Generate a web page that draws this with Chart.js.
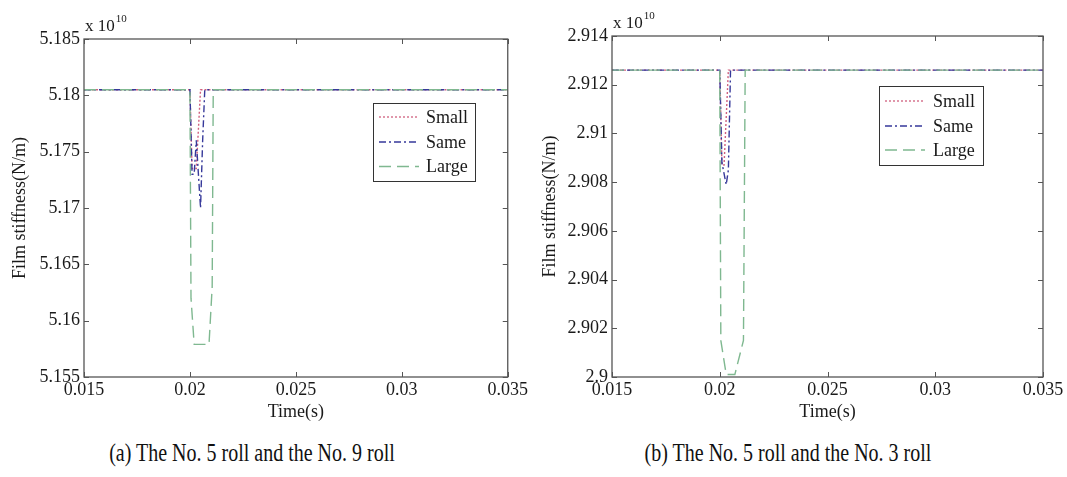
<!DOCTYPE html>
<html><head><meta charset="utf-8">
<script src="https://cdn.jsdelivr.net/npm/chart.js@4/dist/chart.umd.min.js"></script>
<style>
html,body{margin:0;padding:0;background:#fff;}
body{width:1067px;height:477px;position:relative;overflow:hidden;font-family:"Liberation Serif","Times New Roman",serif;}
canvas{position:absolute;top:0;}
#ca{left:0;}
#cb{left:530px;}
.cap{position:absolute;top:438px;font-size:25px;line-height:29px;white-space:nowrap;color:#111;transform:translateX(-50%) scaleX(0.8);}
#capa{left:252px;}
#capb{left:788px;}
</style></head><body>
<canvas id="ca" width="530" height="430"></canvas>
<canvas id="cb" width="537" height="430"></canvas>
<div class="cap" id="capa">(a) The No. 5 roll and the No. 9 roll</div>
<div class="cap" id="capb">(b) The No. 5 roll and the No. 3 roll</div>
<script>
// ---------- data ----------
const seriesNames = ['Small', 'Same', 'Large'];
const xTicks = [0.015, 0.02, 0.025, 0.03, 0.035];
const xTickLabels = ['0.015', '0.02', '0.025', '0.03', '0.035'];
const xTitle = 'Time(s)';
const yTitle = 'Film stiffness(N/m)';
const exponentLabel = '10';

// (a) No. 5 roll and No. 9 roll
const yTicksA = [5.155, 5.16, 5.165, 5.17, 5.175, 5.18, 5.185];
const yTickLabelsA = ['5.155', '5.16', '5.165', '5.17', '5.175', '5.18', '5.185'];
const tSmallA = [0.015, 0.0200, 0.0201, 0.0203, 0.0205, 0.035];
const vSmallA = [5.1805, 5.1805, 5.1735, 5.1735, 5.1805, 5.1805];
const tSameA = [0.015, 0.0200, 0.0201, 0.0202, 0.0203, 0.0205, 0.0206, 0.0207, 0.035];
const vSameA = [5.1805, 5.1805, 5.1730, 5.1730, 5.1760, 5.1700, 5.1760, 5.1805, 5.1805];
const tLargeA = [0.015, 0.0200, 0.02005, 0.0202, 0.0209, 0.02105, 0.0211, 0.035];
const vLargeA = [5.1805, 5.1805, 5.1620, 5.1579, 5.1579, 5.1630, 5.1805, 5.1805];

// (b) No. 5 roll and No. 3 roll
const yTicksB = [2.9, 2.902, 2.904, 2.906, 2.908, 2.91, 2.912, 2.914];
const yTickLabelsB = ['2.9', '2.902', '2.904', '2.906', '2.908', '2.91', '2.912', '2.914'];
const tSmallB = [0.015, 0.0200, 0.0201, 0.0202, 0.0204, 0.035];
const vSmallB = [2.9126, 2.9126, 2.9087, 2.9087, 2.9126, 2.9126];
const tSameB = [0.015, 0.0200, 0.0201, 0.0203, 0.0204, 0.0205, 0.035];
const vSameB = [2.9126, 2.9126, 2.9088, 2.9079, 2.9085, 2.9126, 2.9126];
const tLargeB = [0.015, 0.0200, 0.02005, 0.0203, 0.0207, 0.0211, 0.02118, 0.035];
const vLargeB = [2.9126, 2.9126, 2.9015, 2.9001, 2.9001, 2.9015, 2.9126, 2.9126];

// ---------- styling ----------
const FONT = '"Liberation Serif", "Times New Roman", serif';
const TXT = '#1a1a1a';
const styles = [
  {color: '#d0607e', dash: [2, 2], order: 2},
  {color: '#36399a', dash: [7, 3, 2, 3], order: 1},
  {color: '#7fb890', dash: [12, 6], order: 0}
];

function pts(t, v) { return t.map((x, i) => ({x: x, y: v[i]})); }

const framePlugin = {
  id: 'frame',
  afterDatasetsDraw(chart, args, opts) {
    const {ctx, chartArea: a, scales} = chart;
    ctx.save();
    ctx.strokeStyle = '#555';
    ctx.lineWidth = 1.3;
    ctx.strokeRect(a.left, a.top, a.right - a.left, a.bottom - a.top);
    ctx.lineWidth = 1;
    const L = 5;
    ctx.beginPath();
    scales.x.ticks.forEach(tk => {
      const px = Math.round(scales.x.getPixelForValue(tk.value)) + 0.5;
      ctx.moveTo(px, a.bottom); ctx.lineTo(px, a.bottom - L);
      ctx.moveTo(px, a.top); ctx.lineTo(px, a.top + L);
    });
    scales.y.ticks.forEach(tk => {
      const py = Math.round(scales.y.getPixelForValue(tk.value)) + 0.5;
      ctx.moveTo(a.left, py); ctx.lineTo(a.left + L, py);
      ctx.moveTo(a.right, py); ctx.lineTo(a.right - L, py);
    });
    ctx.stroke();
    // exponent label
    ctx.fillStyle = TXT;
    ctx.textBaseline = 'alphabetic';
    ctx.textAlign = 'left';
    ctx.font = '17px ' + FONT;
    ctx.fillText('x 10', a.left + 1, a.top - 8);
    const w = ctx.measureText('x 10').width;
    ctx.font = '11px ' + FONT;
    ctx.fillText(exponentLabel, a.left + 2 + w, a.top - 17);
    // legend
    const lg = opts.legend;
    ctx.strokeStyle = '#333';
    ctx.lineWidth = 1;
    ctx.strokeRect(lg.x + 0.5, lg.y + 0.5, lg.w, lg.h);
    ctx.font = '18px ' + FONT;
    ctx.textBaseline = 'middle';
    chart.data.datasets.forEach((ds, i) => {
      const y = lg.rows[i];
      ctx.save();
      ctx.strokeStyle = ds.borderColor;
      ctx.setLineDash(ds.borderDash);
      ctx.lineWidth = 1.3;
      ctx.beginPath();
      ctx.moveTo(lg.x + 6, y); ctx.lineTo(lg.x + 46, y);
      ctx.stroke();
      ctx.restore();
      ctx.fillStyle = TXT;
      ctx.fillText(ds.label, lg.textX, y + 1);
    });
    ctx.restore();
  }
};

function makeChart(id, series, yMin, yMax, yTicks, yLabels, layout, legend) {
  const datasets = series.map((s, i) => ({
    label: seriesNames[i],
    data: pts(s[0], s[1]),
    borderColor: styles[i].color,
    borderDash: styles[i].dash,
    borderWidth: 1.4,
    pointRadius: 0,
    tension: 0,
    fill: false,
    order: styles[i].order
  }));
  return new Chart(document.getElementById(id), {
    type: 'line',
    data: {datasets},
    plugins: [framePlugin],
    options: {
      responsive: false,
      animation: false,
      events: [],
      layout: {padding: {left: 0, right: layout.right, top: layout.top, bottom: 0}},
      plugins: {legend: {display: false}, tooltip: {enabled: false}, frame: {legend}},
      scales: {
        x: {
          type: 'linear', min: xTicks[0], max: xTicks[xTicks.length - 1],
          afterBuildTicks: sc => { sc.ticks = xTicks.map(v => ({value: v})); },
          afterFit: sc => { sc.height = layout.xh; },
          ticks: {
            callback: (v) => xTickLabels[xTicks.findIndex(t => Math.abs(t - v) < 1e-9)],
            color: TXT, font: {family: FONT, size: 18}, padding: 2, maxRotation: 0, autoSkip: false
          },
          grid: {display: false, drawTicks: false},
          border: {display: false},
          title: {display: true, text: xTitle, color: TXT, font: {family: FONT, size: 18}, padding: {top: 0, bottom: 7}}
        },
        y: {
          type: 'linear', min: yMin, max: yMax,
          afterBuildTicks: sc => { sc.ticks = yTicks.map(v => ({value: v})); },
          afterFit: sc => { sc.width = layout.yw; },
          ticks: {
            callback: (v) => yLabels[yTicks.findIndex(t => Math.abs(t - v) < 1e-9)],
            color: TXT, font: {family: FONT, size: 18}, padding: 4, autoSkip: false
          },
          grid: {display: false, drawTicks: false},
          border: {display: false},
          title: {display: true, text: yTitle, color: TXT, font: {family: FONT, size: 18}, padding: {top: 9, bottom: 0}}
        }
      }
    }
  });
}

makeChart('ca',
  [[tSmallA, vSmallA], [tSameA, vSameA], [tLargeA, vLargeA]],
  yTicksA[0], yTicksA[yTicksA.length - 1], yTicksA, yTickLabelsA,
  {right: 18, top: 39, xh: 53, yw: 84},
  {x: 373, y: 103, w: 102, h: 78, rows: [117, 142, 166.5], textX: 426});

makeChart('cb',
  [[tSmallB, vSmallB], [tSameB, vSameB], [tLargeB, vLargeB]],
  yTicksB[0], yTicksB[yTicksB.length - 1], yTicksB, yTickLabelsB,
  {right: 24, top: 36, xh: 53, yw: 82},
  {x: 349, y: 86, w: 104, h: 79, rows: [101, 126, 150], textX: 403});
</script>
</body></html>
